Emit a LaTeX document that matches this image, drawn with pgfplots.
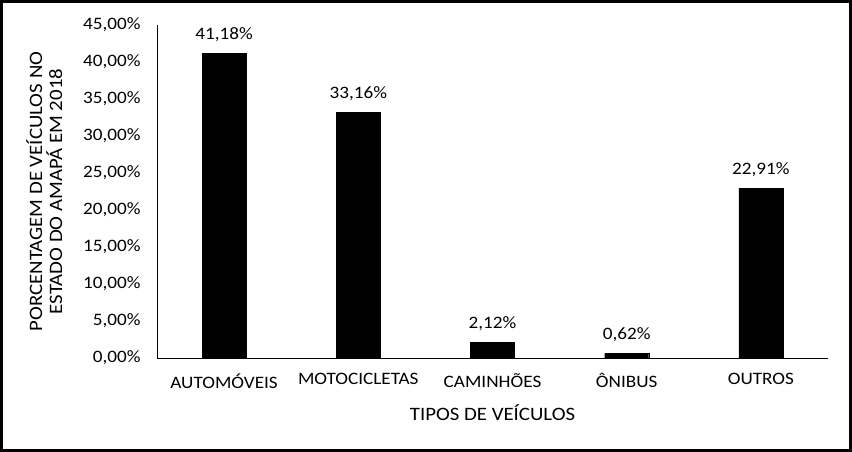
\documentclass[border=0pt]{standalone}
\usepackage{pgfplots}
\pgfplotsset{compat=1.18}
\usepackage{fontspec}
\setmainfont{Carlito}[FakeStretch=1.1]
\begin{document}
\begin{tikzpicture}[x=1bp,y=1bp]
\useasboundingbox (0,0) rectangle (852,452);
\draw[line width=3bp] (1.5,1.5) rectangle (850.5,450.5);
\begin{axis}[
  at={(157bp,94bp)}, anchor=south west,
  scale only axis, width=671bp, height=333bp,
  xmin=-0.5, xmax=4.5, ymin=0, ymax=45,
  axis x line=bottom, axis y line=left,
  axis line style={-, line width=0.8bp},
  font=\fontsize{17.5}{21}\selectfont,
  /pgf/number format/assume math mode=true,
  ytick={0,5,...,45},
  yticklabel={\pgfmathprintnumber[fixed,zerofill,precision=2,use comma]{\tick}\%},
  yticklabel style={anchor=east, xshift=-13bp},
  xtick={0,1,2,3,4},
  xticklabels={AUTOMÓVEIS,MOTOCICLETAS,CAMINHÕES,ÔNIBUS,OUTROS},
  xticklabel style={anchor=north, yshift=-12bp},
  major tick length=0,
  ybar, bar width=44bp,
  nodes near coords={\pgfmathprintnumber[fixed,zerofill,precision=2,use comma]{\pgfplotspointmeta}\%},
  nodes near coords style={font=\fontsize{17.5}{21}\selectfont, anchor=south, yshift=8bp},
  xlabel={TIPOS DE VEÍCULOS},
  xlabel style={at={(axis description cs:0.5,-0.164)}, anchor=center, font=\fontsize{19}{22}\selectfont},
  ylabel={PORCENTAGEM DE VEÍCULOS NO\\[3bp]ESTADO DO AMAPÁ EM 2018},
  ylabel style={at={(axis description cs:-0.168,0.5)}, anchor=center, align=center, rotate=0, font=\fontsize{19}{16}\selectfont},
]
\addplot[fill=black, draw=black] coordinates {(0,41.18) (1,33.16) (2,2.12) (3,0.62) (4,22.91)};
\end{axis}
\end{tikzpicture}
\end{document}
